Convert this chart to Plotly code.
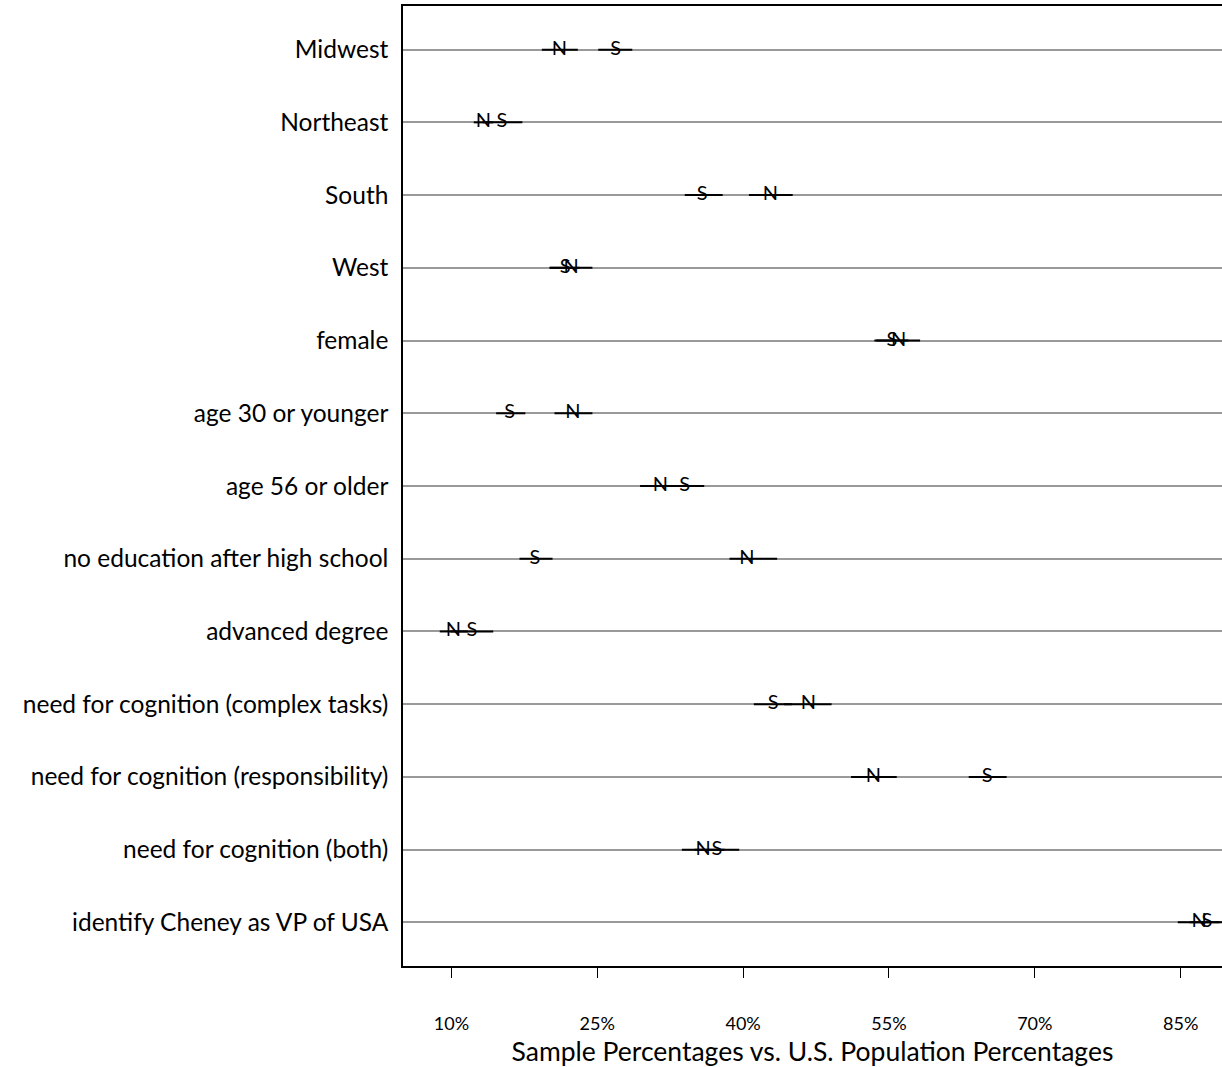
import plotly.graph_objects as go

categories = [
    "Midwest", "Northeast", "South", "West", "female",
    "age 30 or younger", "age 56 or older", "no education after high school",
    "advanced degree", "need for cognition (complex tasks)",
    "need for cognition (responsibility)", "need for cognition (both)",
    "identify Cheney as VP of USA",
]

# National (N) estimates and confidence bounds, percent
n_est = [21.1, 13.3, 42.8, 22.3, 56.0, 22.5, 31.5, 40.4, 10.2, 46.7, 53.4, 35.9, 86.9]
n_lo  = [19.3, 12.3, 40.6, 20.1, 53.7, 20.6, 29.4, 38.6,  8.8, 44.2, 51.1, 33.7, 84.7]
n_hi  = [23.0, 14.3, 45.1, 24.5, 58.2, 24.5, 33.6, 43.5, 11.7, 49.1, 55.8, 38.1, 89.0]

# Sample (S) estimates and confidence bounds, percent
s_est = [26.9, 15.2, 35.8, 21.7, 55.3, 16.0, 34.0, 18.6, 12.1, 43.1, 65.1, 37.3, 87.7]
s_lo  = [25.1, 13.2, 34.0, 20.1, 53.5, 14.6, 32.0, 17.0,  9.9, 41.1, 63.2, 35.0, 85.9]
s_hi  = [28.6, 17.3, 37.9, 23.2, 57.0, 17.6, 36.0, 20.4, 14.3, 45.0, 67.1, 39.6, 89.5]

tick_vals = [10, 25, 40, 55, 70, 85]
tick_text = ["10%", "25%", "40%", "55%", "70%", "85%"]

FONT = "Lato"

fig = go.Figure()

for est, lo, hi, letter in [(n_est, n_lo, n_hi, "N"), (s_est, s_lo, s_hi, "S")]:
    fig.add_trace(go.Scatter(
        x=est, y=categories,
        mode="text",
        text=[letter] * len(est),
        textposition="middle center",
        textfont=dict(family=FONT, size=20, color="black"),
        error_x=dict(
            type="data", symmetric=False,
            array=[h - e for h, e in zip(hi, est)],
            arrayminus=[e - l for e, l in zip(est, lo)],
            width=0, thickness=2, color="black",
        ),
        showlegend=False,
        hoverinfo="skip",
    ))

fig.update_layout(
    width=1222, height=1067,
    margin=dict(l=403, r=0, t=6, b=101),
    paper_bgcolor="white", plot_bgcolor="white",
    font=dict(family=FONT, color="black"),
    xaxis=dict(
        range=[5.02, 89.25],
        tickvals=tick_vals, ticktext=tick_text,
        ticks="outside", ticklen=10, tickwidth=1, tickcolor="black",
        tickfont=dict(size=18, family=FONT),
        ticklabelstandoff=31,
        showgrid=False, zeroline=False,
        showline=True, linecolor="black", linewidth=1.5, mirror=True,
        title=dict(text="Sample Percentages vs. U.S. Population Percentages",
                   font=dict(size=26.5, family=FONT), standoff=13),
    ),
    yaxis=dict(
        type="category",
        categoryorder="array", categoryarray=categories,
        range=[12.6, -0.6],
        showgrid=True, gridcolor="#999999", gridwidth=2,
        zeroline=False,
        showline=True, linecolor="black", linewidth=1.5, mirror=False,
        ticks="", ticklabelstandoff=8,
        tickfont=dict(size=24.5, family=FONT),
    ),
)

fig.write_html(
    "out.html",
    config={"displayModeBar": False},
    post_script="document.body.style.margin='0';document.body.style.overflow='hidden';",
)
